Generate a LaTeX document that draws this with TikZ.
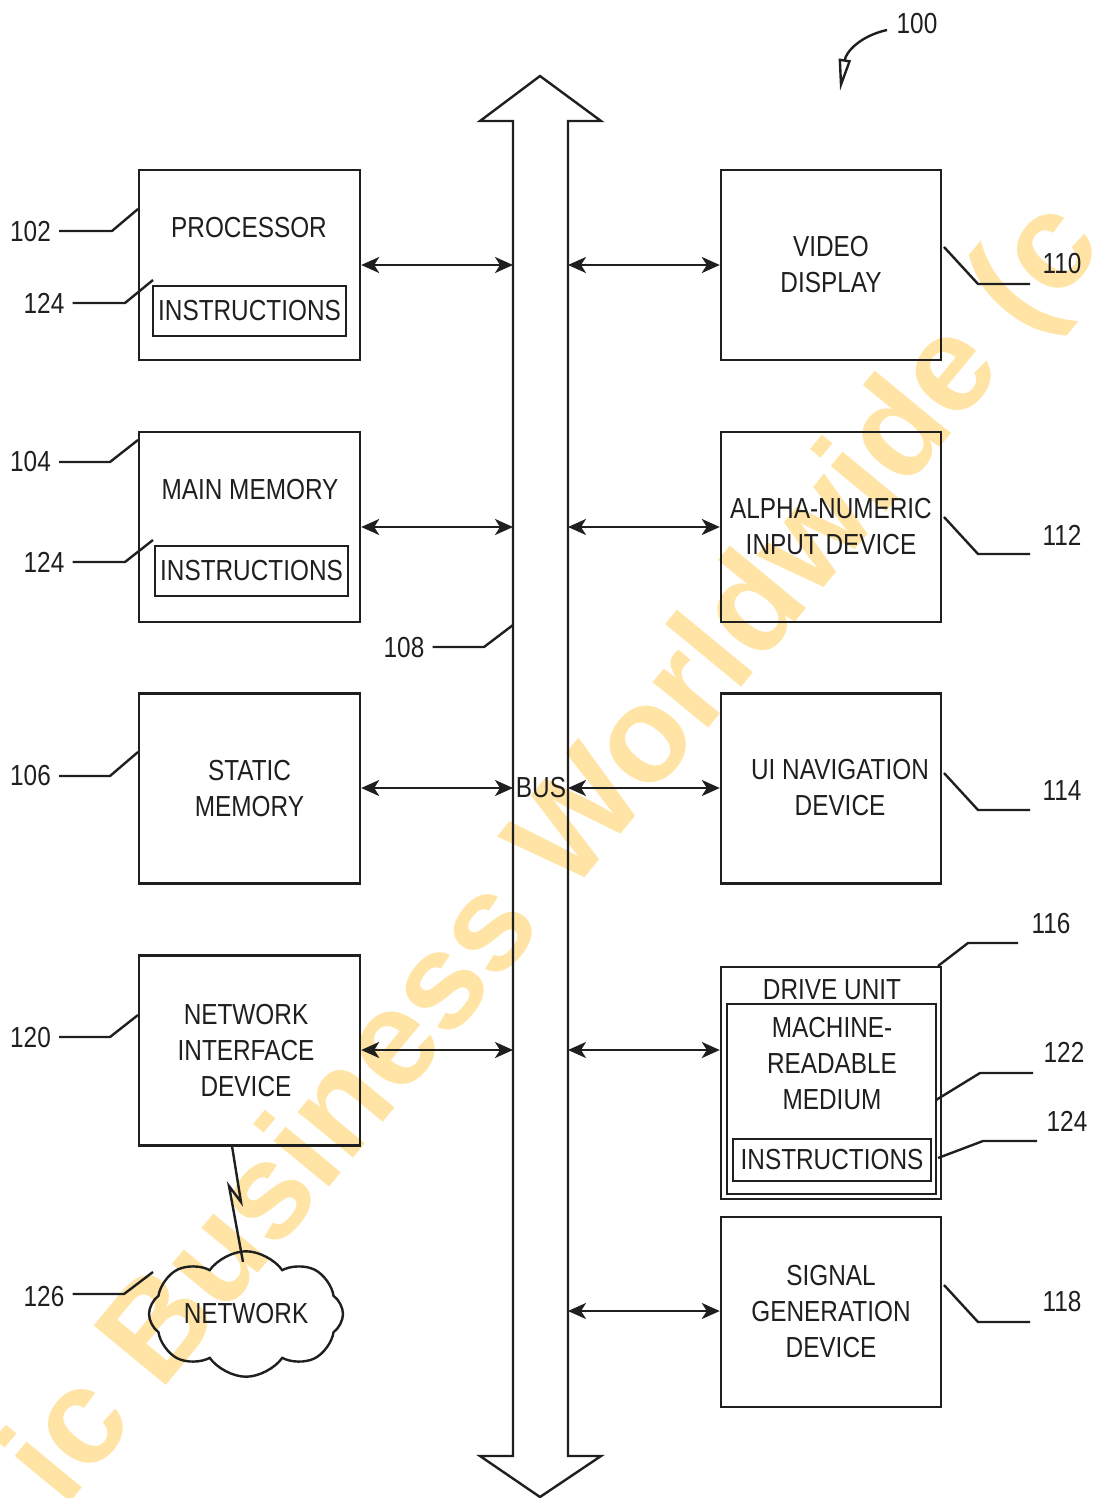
\documentclass[tikz,border=0pt]{standalone}
\usepackage{fontspec}
\setmainfont{Liberation Sans}[FakeStretch=0.84]
\newfontfamily\wmfont{Liberation Sans}
\usetikzlibrary{arrows.meta,shapes.symbols}
\definecolor{ink}{rgb}{0.12,0.12,0.12}
\definecolor{wmark}{RGB}{255,228,165}
\begin{document}
\begin{tikzpicture}[x=0.5pt,y=-0.5pt,
  every node/.style={font=\fontsize{14.5pt}{18pt}\selectfont, text=ink, inner sep=0pt, align=center},
  line/.style={draw=ink, line width=1.2pt},
  lbox/.style={line, minimum width=110.5pt, minimum height=95pt},
  rbox/.style={line, minimum width=110pt, minimum height=95pt},
  ibox/.style={line, minimum width=96.5pt, minimum height=25pt},
  conn/.style={line, <->},
  >={Stealth[length=9pt,width=8pt,inset=2.5pt]},
  lead/.style={line}]
\useasboundingbox (0,0) rectangle (1094,1498);
% watermark
\begin{scope}
\clip (0,0) rectangle (1094,1498);
\node[rotate=50.5, font=\wmfont\bfseries\fontsize{68pt}{80pt}\selectfont, text=wmark] (wm) at (558,855) {ic Business Worldwide (c};
\end{scope}
% bus
\draw[line] (540,76) -- (601,121) -- (568,121) -- (568,1456) -- (601,1456) -- (540,1497) -- (480,1456) -- (513,1456) -- (513,121) -- (480,121) -- cycle;
\node (bus) at (541,788) {BUS};
\coordinate (bl1) at (513,265); \coordinate (bl2) at (513,527);
\coordinate (bl3) at (513,788); \coordinate (bl4) at (513,1050);
\coordinate (br1) at (568,265); \coordinate (br2) at (568,527);
\coordinate (br3) at (568,788); \coordinate (br4) at (568,1050);
\coordinate (br5) at (568,1311);
% left column
\node[lbox] (proc) at (249.5,265) {};
\node (proct) at (249,228) {PROCESSOR};
\node[ibox] (pins) at (249.5,311) {INSTRUCTIONS};
\node[lbox] (mm) at (249.5,527) {};
\node (mmt) at (250,490) {MAIN MEMORY};
\node[ibox] (mins) at (251.5,571) {INSTRUCTIONS};
\node[lbox] (sm) at (249.5,788.5) {STATIC\\MEMORY};
\node[lbox] (nid) at (249.5,1050.5) {};
\node (nidt) at (246,1051) {NETWORK\\INTERFACE\\DEVICE};
\node[cloud, line, cloud puffs=8, cloud puff arc=110, aspect=1.8, minimum width=97pt, minimum height=54pt] (net) at (246,1314) {NETWORK};
% right column
\node[rbox] (vd) at (831,265) {VIDEO\\DISPLAY};
\node[rbox] (an) at (831,527) {ALPHA-NUMERIC\\INPUT DEVICE};
\node[rbox] (ui) at (831,788.5) {};
\node (uit) at (840,788) {UI NAVIGATION\\DEVICE};
\node[line, minimum width=110pt, minimum height=116pt] (du) at (831,1083) {};
\node (dut) at (832,990) {DRIVE UNIT};
\node[line, minimum width=104.5pt, minimum height=95pt] (mrm) at (831.5,1099) {};
\node (mrmt) at (832,1064) {MACHINE-\\READABLE\\MEDIUM};
\node[line, minimum width=99pt, minimum height=21pt] (dins) at (832,1160) {INSTRUCTIONS};
\node[rbox] (sg) at (831,1312) {SIGNAL\\GENERATION\\DEVICE};
% connectors
\draw[conn] (proc.east) -- (bl1);
\draw[conn] (mm.east) -- (bl2);
\draw[conn] (sm.east |- bl3) -- (bl3);
\draw[conn] (nid.east |- bl4) -- (bl4);
\draw[conn] (br1) -- (vd.west);
\draw[conn] (br2) -- (an.west);
\draw[conn] (br3) -- (ui.west |- br3);
\draw[conn] (br4) -- (du.west |- br4);
\draw[conn] (br5) -- (sg.west |- br5);
% wireless link
\coordinate (z1) at (232,1146); \coordinate (z2) at (241,1202);
\coordinate (z3) at (229,1186); \coordinate (z4) at (243,1262);
\draw[line] (z1) -- (z2) -- (z3) -- (z4);
% reference numerals
\node (n102) at (30.5,232) {102};
\node (n124a) at (44,303) {124};
\node (n104) at (30.5,462) {104};
\node (n124b) at (44,562) {124};
\node (n106) at (30.5,776) {106};
\node (n120) at (30.5,1038) {120};
\node (n126) at (44,1297) {126};
\node (n108) at (404,648) {108};
\node (n100) at (917,24) {100};
\node (n110) at (1062,264) {110};
\node (n112) at (1062,535) {112};
\node (n114) at (1062,791) {114};
\node (n116) at (1051,924) {116};
\node (n122) at (1064,1052) {122};
\node (n124c) at (1067,1121) {124};
\node (n118) at (1062,1302) {118};
% leaders
\draw[lead] (n102.east) ++(8,-1) -- (112,231) -- (138,209);
\draw[lead] (n124a.east) ++(8,0) -- (125,303) -- (153,280);
\draw[lead] (n104.east) ++(8,0) -- (110,462) -- (138,440);
\draw[lead] (n124b.east) ++(8,0) -- (125,562) -- (153,540);
\draw[lead] (n106.east) ++(8,0) -- (110,776) -- (138,752);
\draw[lead] (n120.east) ++(8,-1) -- (110,1037) -- (138,1015);
\draw[lead] (n126.east) ++(8,-3) -- (124,1294) -- (153,1272);
\draw[lead] (n108.east) ++(8,-1) -- (484,647) -- (513,625);
\draw[lead] (944,247) -- (978,284) -- (1030,284);
\draw[lead] (944,517) -- (978,554) -- (1030,554);
\draw[lead] (944,773) -- (978,810) -- (1030,810);
\draw[lead] (944,1285) -- (978,1322) -- (1030,1322);
\draw[lead] (938,966) -- (968,943) -- (1018,943);
\draw[lead] (936,1100) -- (980,1073) -- (1033,1073);
\draw[lead] (938,1158) -- (983,1141) -- (1037,1141);
% 100 arrow
\coordinate (c100) at (887,30); \coordinate (a100) at (840,91);
\draw[line, -{Triangle[open,length=16pt,width=6pt]}] (c100) .. controls (860,36) and (846,52) .. (a100);
\end{tikzpicture}
\end{document}
